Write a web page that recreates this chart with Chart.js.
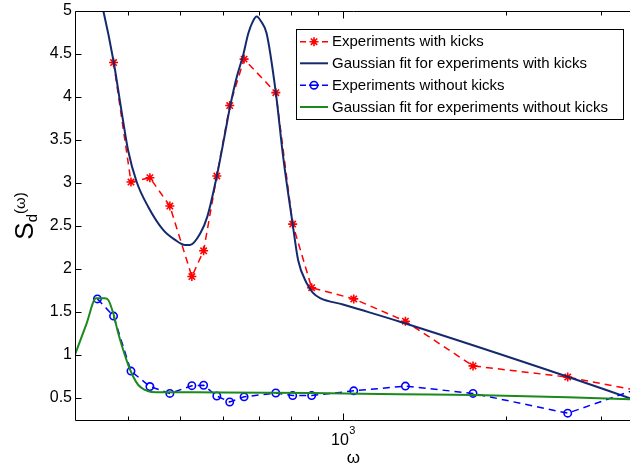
<!DOCTYPE html>
<html><head><meta charset="utf-8">
<script src="https://cdn.jsdelivr.net/npm/chart.js@4"></script>
<style>html,body{margin:0;padding:0;background:#fff;overflow:hidden}#wrap{width:630px;height:466px}</style>
</head><body><div id="wrap"><canvas id="c" width="630" height="466"></canvas></div>
<script>
// ---- data ----
const omega        = [351, 376, 405, 439, 478, 525, 552, 584, 617, 656, 751, 807, 875, 1047, 1305, 1741, 2607, 3500];
const withKicks    = [null, 4.40, 3.01, 3.06, 2.73, 1.91, 2.21, 3.08, 3.90, 4.44, 4.05, 2.52, 1.78, 1.65, 1.39, 0.87, 0.74, 0.585];
const withoutKicks = [1.65, 1.45, 0.81, 0.63, 0.55, 0.64, 0.645, 0.52, 0.45, 0.51, 0.555, 0.525, 0.525, 0.58, 0.635, 0.55, 0.32, 0.60];

const fitKicksOmega = [340, 360, 376, 390, 400, 415, 436, 465, 488, 510, 521, 544, 561, 584, 605, 618, 636, 653, 668, 680, 692, 705, 722, 751, 775, 807, 826, 857, 880, 907, 1000, 1075, 1275, 2607, 3400, 3500];
const fitKicksS     = [5.6, 5.0, 4.415, 3.79, 3.38, 3.01, 2.72, 2.45, 2.34, 2.277, 2.277, 2.41, 2.61, 3.08, 3.58, 3.89, 4.235, 4.48, 4.74, 4.87, 4.935, 4.88, 4.74, 4.05, 3.30, 2.52, 2.10, 1.83, 1.72, 1.66, 1.585, 1.526, 1.384, 0.744, 0.493, 0.466];

const fitNoKicksOmega = [319, 335, 349, 362, 367.6, 375.5, 383.6, 391.8, 400.4, 409, 417.8, 430, 442, 465, 600, 875, 1275, 1741, 2607, 3400, 3500];
const fitNoKicksS     = [1.0, 1.36, 1.656, 1.656, 1.637, 1.482, 1.249, 1.055, 0.88, 0.744, 0.648, 0.59, 0.566, 0.563, 0.562, 0.556, 0.54, 0.531, 0.505, 0.483, 0.48];

const yTicks = [0.5, 1, 1.5, 2, 2.5, 3, 3.5, 4, 4.5, 5];
const xTicks = [400, 500, 600, 700, 800, 900, 1000, 2000, 3000];
const xMajorTicks = [1000];
const xMin = 319, xMax = 3400, yMin = 0.229, yMax = 5;

const labels = ['Experiments with kicks', 'Gaussian fit for experiments with kicks',
                'Experiments without kicks', 'Gaussian fit for experiments without kicks'];

const pts = (xs, ys) => xs.map((x, i) => ({x: x, y: ys[i]}));
const FONT = "'Liberation Sans', Arial, Helvetica, sans-serif";

const datasets = [
  {label: labels[0], data: pts(omega, withKicks), borderColor: '#ff0000', backgroundColor: '#ff0000',
   borderWidth: 1.5, borderDash: [7, 5], pointStyle: 'star', pointRadius: 4.5, pointBorderWidth: 1.6,
   pointBorderColor: '#ff0000', tension: 0, order: 4, spanGaps: false},
  {label: labels[1], data: pts(fitKicksOmega, fitKicksS), borderColor: '#142a6e', borderWidth: 2,
   pointRadius: 0, cubicInterpolationMode: 'monotone', order: 3},
  {label: labels[2], data: pts(omega, withoutKicks), borderColor: '#0000ff', backgroundColor: 'rgba(0,0,0,0)',
   borderWidth: 1.5, borderDash: [7, 5], pointStyle: 'circle', pointRadius: 3.7, pointBorderWidth: 1.6,
   pointBorderColor: '#0000ff', pointBackgroundColor: 'rgba(0,0,0,0)', tension: 0, order: 2},
  {label: labels[3], data: pts(fitNoKicksOmega, fitNoKicksS), borderColor: '#1a8a1a', borderWidth: 2,
   pointRadius: 0, cubicInterpolationMode: 'monotone', order: 1}
];

const decor = {
  id: 'decor',
  afterDraw(chart) {
    const ctx = chart.ctx, a = chart.chartArea, xs = chart.scales.x, ys = chart.scales.y;
    ctx.save();
    // frame (top, left, bottom)
    ctx.strokeStyle = '#000'; ctx.lineWidth = 1; ctx.setLineDash([]);
    const L = Math.round(a.left) + 0.5, T = Math.round(a.top) + 0.5, B = Math.round(a.bottom) - 0.5, R = a.right + 2;
    ctx.beginPath();
    ctx.moveTo(R, T); ctx.lineTo(L, T); ctx.lineTo(L, B); ctx.lineTo(R, B);
    ctx.stroke();
    // inward ticks
    ctx.beginPath();
    xTicks.forEach(v => {
      const px = Math.round(xs.getPixelForValue(v)) + 0.5;
      const len = xMajorTicks.includes(v) ? 7 : 4;
      ctx.moveTo(px, B); ctx.lineTo(px, B - len);
      ctx.moveTo(px, T); ctx.lineTo(px, T + len);
    });
    yTicks.forEach(v => {
      const py = Math.round(ys.getPixelForValue(v)) + 0.5;
      ctx.moveTo(L, py); ctx.lineTo(L + 6, py);
    });
    ctx.stroke();
    // x tick label 10^3
    ctx.fillStyle = '#000';
    ctx.textBaseline = 'alphabetic';
    xMajorTicks.forEach(v => {
      const px = xs.getPixelForValue(v);
      const exp = String(Math.round(Math.log10(v)));
      ctx.font = '16px ' + FONT;
      const w1 = ctx.measureText('10').width;
      ctx.font = '11px ' + FONT;
      const w2 = ctx.measureText(exp).width;
      const x0 = px - (w1 + w2) / 2;
      ctx.font = '16px ' + FONT;
      ctx.textAlign = 'left';
      ctx.fillText('10', x0, a.bottom + 24);
      ctx.font = '11px ' + FONT;
      ctx.fillText(exp, x0 + w1 + 0.5, a.bottom + 13);
    });
    // x title
    ctx.font = '17px ' + FONT; ctx.textAlign = 'center';
    ctx.fillText('\u03c9', (a.left + a.right) / 2 + 1, a.bottom + 42);
    // y title S_d(ω)
    ctx.save();
    ctx.translate(33, 216);
    ctx.rotate(-Math.PI / 2);
    ctx.textAlign = 'left';
    ctx.font = '26px ' + FONT; const wS = ctx.measureText('S').width;
    ctx.font = '15px ' + FONT; const wd = ctx.measureText('d').width; const wo = ctx.measureText('(\u03c9)').width;
    const tot = wS + wd + wo;
    let x = -tot / 2;
    ctx.font = '26px ' + FONT; ctx.fillText('S', x, 0); x += wS;
    ctx.font = '15px ' + FONT; ctx.fillText('d', x, 4); x += wd;
    ctx.fillText('(\u03c9)', x, -8);
    ctx.restore();
    // legend
    const bx = 296.5, by = 29.5, bw = 327, bh = 90;
    ctx.fillStyle = '#fff'; ctx.fillRect(bx, by, bw, bh);
    ctx.strokeStyle = '#000'; ctx.lineWidth = 1; ctx.strokeRect(bx, by, bw, bh);
    const rowY = [41.7, 63.3, 85.2, 107.0];
    chart.data.datasets.forEach((ds, i) => {
      const yy = rowY[i];
      ctx.save();
      ctx.strokeStyle = ds.borderColor; ctx.lineWidth = ds.borderWidth;
      ctx.beginPath();
      if (ds.borderDash) {
        ctx.moveTo(300, yy); ctx.lineTo(306, yy);
        ctx.moveTo(322, yy); ctx.lineTo(328, yy);
      } else {
        ctx.moveTo(300, yy); ctx.lineTo(328, yy);
      }
      ctx.stroke();
      if (ds.pointRadius > 0) {
        ctx.lineWidth = ds.pointBorderWidth; ctx.strokeStyle = ds.pointBorderColor;
        ctx.fillStyle = 'rgba(0,0,0,0)';
        if (ds.pointStyle === 'circle') {
          ctx.beginPath(); ctx.moveTo(309, yy); ctx.lineTo(319, yy); ctx.stroke();
        }
        Chart.helpers.drawPoint(ctx, {pointStyle: ds.pointStyle, radius: ds.pointRadius, rotation: 0, borderWidth: ds.pointBorderWidth}, 314, yy);
      }
      ctx.restore();
      ctx.fillStyle = '#000'; ctx.font = '15px ' + FONT; ctx.textAlign = 'left'; ctx.textBaseline = 'middle';
      ctx.fillText(ds.label, 332, yy + 0.5);
    });
    ctx.restore();
  }
};

new Chart(document.getElementById('c'), {
  type: 'line',
  data: {datasets: datasets},
  options: {
    responsive: false, animation: false, devicePixelRatio: 1,
    layout: {padding: {top: 11, left: 0, right: 0, bottom: 0}, autoPadding: false},
    plugins: {legend: {display: false}, tooltip: {enabled: false}},
    elements: {line: {fill: false}},
    datasets: {line: {clip: 0}},
    scales: {
      x: {type: 'logarithmic', min: xMin, max: xMax,
          grid: {display: false, drawTicks: false}, border: {display: false},
          ticks: {display: false},
          afterBuildTicks: s => { s.ticks = xTicks.map(v => ({value: v})); },
          afterFit: s => { s.height = 45; s.paddingLeft = 0; s.paddingRight = 0; }},
      y: {type: 'linear', min: yMin, max: yMax,
          grid: {display: false, drawTicks: false}, border: {display: false},
          ticks: {color: '#000', padding: 3, font: {family: FONT, size: 16}, callback: v => String(v)},
          afterBuildTicks: s => { s.ticks = yTicks.map(v => ({value: v})); },
          afterFit: s => { s.width = 75; s.paddingTop = 0; s.paddingBottom = 0; }}
    }
  },
  plugins: [decor]
});
</script></body></html>
